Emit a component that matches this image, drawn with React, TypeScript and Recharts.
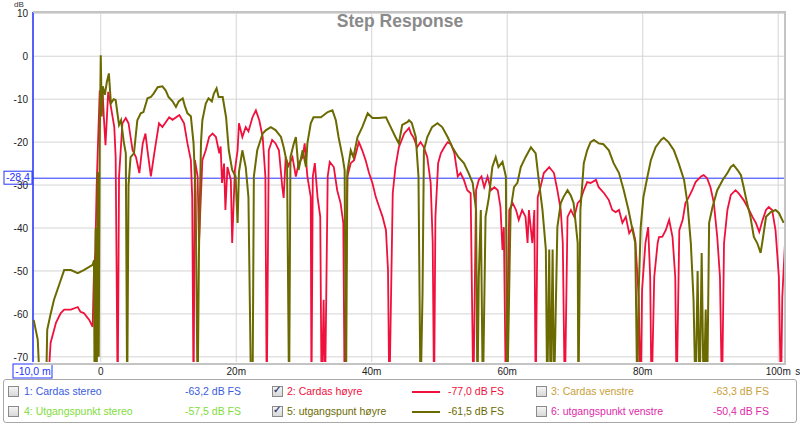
import { LineChart, Line, XAxis, YAxis, CartesianGrid, ReferenceLine } from "recharts";

// time in ms, level in dB (values below the axis floor are clipped dips)
const cardasHoyre: [number, number][] = [
  [-7.9, -80], [-7.4, -66.7], [-6.6, -62], [-5.9, -59.8], [-5.4, -59], [-4.4, -59], [-3.4, -58.4],
  [-3.0, -59.5], [-2.5, -59.8], [-1.7, -61.4], [-1.2, -63], [-1.0, -50], [-0.8, -45.6], [-0.6, -30],
  [-0.4, -20], [-0.15, -8], [0, -12.6], [0.3, -9], [0.45, -14], [0.7, -20.7], [1.1, -8.3], [1.5, -11.8],
  [2.0, -16.5], [2.2, -23.5], [2.5, -80], [2.7, -28], [3.2, -15.6], [3.7, -14.4], [4.1, -15.6],
  [4.7, -21.9], [5.2, -23.5], [5.7, -27.2], [6.2, -20.3], [6.6, -18], [6.9, -22], [7.4, -28],
  [7.9, -22.6], [8.6, -15.6], [9.1, -16.5], [10.1, -14.2], [10.6, -14.8], [11.6, -13.7], [12.3, -15.6],
  [12.8, -20.3], [13.3, -24.2], [13.5, -32.8], [13.7, -80], [13.9, -24.2], [14.3, -28], [14.5, -43.5],
  [15.0, -24.2], [15.5, -21.9], [16.0, -18.8], [16.5, -18], [17.0, -18.8], [17.5, -22.6], [17.7, -21],
  [17.9, -29.5], [18.2, -25], [18.4, -35.8], [18.7, -25.8], [19.2, -28.8], [19.4, -43.5], [19.8, -26.5],
  [20.2, -21.9], [20.4, -15.6], [20.9, -18.8], [21.4, -16.5], [21.8, -17.5], [22.4, -14.2], [22.9, -12.6],
  [23.4, -14.9], [23.9, -18.8], [24.3, -28], [24.5, -80], [24.8, -21.9], [25.3, -19.5], [25.8, -20.3],
  [26.3, -21.9], [26.8, -30.5], [27.0, -33], [27.3, -23.5], [27.7, -25.5], [28.3, -23.5], [28.8, -28],
  [29.2, -25], [29.8, -23.5], [30.1, -20.3], [30.5, -28], [31.0, -32.8], [31.1, -80], [31.3, -28],
  [31.6, -24.9], [32.0, -32.8], [32.4, -37.4], [32.6, -80], [32.9, -56.7], [33.1, -80], [33.5, -28],
  [33.8, -24.6], [34.4, -25.8], [34.9, -31.2], [35.4, -34.2], [35.8, -38.8], [36.0, -80], [36.4, -28],
  [36.9, -24.9], [37.4, -24.2], [38.1, -20], [38.6, -21.9], [39.1, -24.2], [39.6, -27.2], [40.1, -29.5],
  [40.6, -32.8], [41.1, -35.1], [41.6, -37.4], [42.1, -40.5], [42.4, -49.8], [42.6, -80], [43.1, -31.9],
  [43.5, -25.8], [44.0, -21.2], [44.8, -18], [45.5, -16.7], [45.8, -18], [46.2, -19], [46.7, -21.2],
  [47.2, -20], [47.7, -21.2], [48.2, -23.5], [48.7, -29.5], [49.0, -43.5], [49.2, -80], [49.4, -37.4],
  [49.8, -24.9], [50.2, -22.6], [50.7, -21.2], [51.2, -20], [51.7, -20.5], [52.2, -22.6], [52.7, -28],
  [53.1, -27.2], [53.6, -28.8], [54.1, -31.2], [54.6, -31.9], [55.0, -80], [55.4, -31.2], [55.8, -28.8],
  [56.2, -28], [56.6, -30.5], [57.1, -28], [57.6, -31.2], [58.1, -30.5], [58.6, -31.2], [59.0, -35.1],
  [59.3, -45.1], [59.5, -39.8], [59.8, -80], [60.3, -35.8], [60.8, -34.2], [61.3, -35.8], [61.7, -38.1],
  [62.2, -35.8], [62.7, -37.4], [63.0, -43.5], [63.2, -35.8], [63.7, -43.5], [64.0, -35.8], [64.2, -80],
  [64.5, -32.8], [64.9, -30.5], [65.4, -27.2], [66.2, -25.8], [66.9, -27.2], [67.4, -31.2], [67.9, -35.8],
  [68.2, -43.5], [68.5, -80], [68.9, -37.4], [69.4, -35.8], [69.9, -37.4], [70.4, -34.2], [70.8, -33.5],
  [71.3, -31.2], [71.8, -29.3], [72.3, -29.5], [73.1, -28.8], [73.5, -30.5], [74.3, -31.9], [75.0, -33.5],
  [75.5, -35.8], [76.0, -36.3], [76.5, -35.8], [77.0, -38.8], [77.5, -37.4], [78.0, -41.2], [78.5, -40],
  [78.9, -42.8], [79.4, -56], [79.7, -80], [79.9, -54.4], [80.4, -43.5], [80.8, -39.8], [81.1, -51.4],
  [81.3, -80], [81.7, -51.4], [82.2, -43.5], [82.4, -42.1], [82.9, -42], [83.4, -40.5], [83.9, -38.1],
  [84.4, -42.1], [84.8, -51.4], [85.0, -80], [85.4, -40.5], [85.9, -38.1], [86.3, -34.2], [86.8, -32.8],
  [87.3, -31.2], [87.8, -29.3], [88.6, -28], [89.0, -27.7], [89.5, -28.4], [90.0, -30.5], [90.5, -34.2],
  [91.0, -42.1], [91.4, -51.4], [91.7, -80], [92.0, -43.5], [92.5, -35.8], [93.0, -32.3], [93.7, -31.2],
  [94.2, -32], [94.9, -33.5], [95.7, -35.8], [96.2, -37.4], [96.7, -38.8], [97.2, -40.9], [97.7, -38.1],
  [98.2, -35.8], [98.6, -35.1], [99.1, -35.8], [99.6, -40.5], [100.1, -51.4], [100.4, -80], [100.6, -56],
  [101.0, -43.5],
];

const utgangspuntHoyre: [number, number][] = [
  [-9.9, -61.4], [-9.3, -66], [-8.9, -80], [-8.1, -80], [-7.9, -63.7], [-7.4, -60], [-6.9, -56.7],
  [-5.9, -52.1], [-5.4, -49.8], [-4.4, -49.8], [-3.4, -50.5], [-2.5, -49.8], [-1.2, -48.6], [-1.0, -47.5],
  [-0.9, -80], [-0.75, -40], [-0.6, -80], [-0.45, -27], [-0.3, -70], [-0.15, -20], [0, 0.2], [0.15, -14],
  [0.3, -7], [0.6, -9], [0.9, -6], [1.2, -4], [1.5, -11], [1.9, -10], [2.2, -10.2], [2.7, -16], [3.0, -14.9],
  [3.4, -20], [3.7, -22.6], [3.9, -80], [4.1, -30], [4.4, -23.5], [4.9, -22.6], [5.4, -14.9], [5.9, -13.3],
  [6.3, -13], [6.9, -9.8], [7.4, -9.5], [7.8, -8.7], [8.4, -7.2], [9.1, -7.0], [9.6, -8], [10.0, -9.5],
  [10.6, -10.5], [11.1, -11.8], [11.5, -10.5], [12.1, -9.8], [12.4, -11.5], [12.8, -13.3], [13.3, -14],
  [13.7, -20.3], [14.0, -31.9], [14.3, -80], [14.5, -45], [14.8, -20], [15.0, -14.9], [15.5, -11],
  [15.9, -9.8], [16.4, -10.5], [16.7, -8.7], [17.1, -7.5], [17.4, -9.5], [18.0, -9.5], [18.5, -14.2],
  [18.9, -21.9], [19.4, -26.5], [19.9, -28], [20.2, -38.8], [20.4, -27], [20.9, -21.9], [21.4, -25.8],
  [21.8, -32.8], [22.2, -80], [22.4, -80], [22.6, -28], [23.1, -21.9], [23.9, -18], [24.4, -17.2],
  [25.1, -16.5], [25.8, -17.2], [26.6, -18.8], [27.0, -21.2], [27.5, -25], [27.8, -80], [28.0, -23.5],
  [28.5, -20.3], [28.8, -18.8], [29.2, -26.5], [29.8, -21.9], [30.3, -25.8], [30.5, -20.3], [31.0, -15.6],
  [31.4, -14.2], [32.5, -14.2], [33.5, -13], [34.2, -12.6], [34.7, -14.9], [35.1, -18.8], [35.7, -23.5],
  [36.0, -26.5], [36.2, -80], [36.4, -27], [36.9, -21.9], [37.3, -23.5], [37.9, -18.8], [38.6, -16.5],
  [39.4, -13.3], [40.1, -14.4], [41.0, -14.4], [42.1, -14.2], [42.8, -16.5], [43.5, -18.8], [44.0, -20.3],
  [44.5, -16], [45.3, -15.3], [45.5, -14.9], [45.9, -15.5], [46.5, -18.8], [46.9, -28], [47.2, -80],
  [47.5, -55], [47.7, -21.9], [48.2, -18.8], [48.9, -16.5], [49.7, -15.6], [50.4, -16.5], [51.2, -18.8],
  [51.9, -21.2], [52.8, -23.5], [53.6, -24.9], [54.3, -27.2], [54.9, -29.5], [55.4, -35.8], [55.6, -80],
  [55.8, -51.4], [56.1, -35.8], [56.4, -80], [56.8, -37.4], [57.3, -32.8], [57.8, -25.8], [58.3, -23.5],
  [58.7, -25.8], [59.3, -24.6], [59.8, -28], [60.0, -80], [60.5, -35.8], [61.0, -30.5], [61.5, -29.5],
  [62.0, -25.8], [62.7, -23.5], [63.5, -21.2], [64.2, -22.6], [64.7, -29.5], [65.2, -35.8], [65.7, -45],
  [65.9, -80], [66.2, -45], [66.4, -80], [66.7, -45], [66.9, -80], [67.4, -39.8], [67.9, -34.2],
  [68.3, -32.8], [68.9, -31.2], [69.4, -32.5], [69.8, -34.2], [70.4, -43.5], [70.5, -80], [70.8, -35.8],
  [71.3, -24.9], [71.8, -21.9], [72.3, -20], [72.8, -19.5], [73.5, -20.3], [74.2, -20.5], [75.0, -21.9],
  [75.7, -24.9], [76.5, -27.2], [77.2, -31.2], [77.9, -35.8], [78.5, -40.5], [78.9, -43.5], [79.2, -80],
  [79.4, -55], [79.7, -39.8], [80.1, -32.8], [80.7, -28], [81.2, -24.2], [81.9, -21.2], [82.7, -19.5],
  [83.1, -19], [83.8, -20], [84.6, -21.9], [85.3, -24.9], [86.1, -28.8], [86.6, -34.2], [87.1, -43.5],
  [87.5, -56.7], [87.8, -80], [88.1, -50], [88.4, -80], [88.7, -45.8], [89.0, -80], [89.3, -59], [89.5, -80],
  [89.8, -38.8], [90.3, -35.1], [91.0, -31.2], [91.8, -28.8], [92.5, -27.2], [93.0, -25.8], [93.4, -25.3],
  [94.0, -26.5], [94.5, -27.7], [94.9, -30.5], [95.4, -34.2], [95.9, -37.4], [96.4, -42.1], [96.9, -43.5],
  [97.4, -45.8], [97.7, -42.8], [98.2, -37.4], [98.9, -36.3], [99.6, -35.8], [100.1, -36.5], [100.8, -38.8],
];

const xTicks = [-10, 0, 20, 40, 60, 80, 100];
const yTicks = [10, 0, -10, -20, -30, -40, -50, -60, -70];
const cursorTime = -10;
const cursorLevel = -28.4;

const legendRows = [
  [
    { label: "1: Cardas stereo", level: "-63,2 dB FS", color: "#3b5bdb", checked: false },
    { label: "2: Cardas høyre", level: "-77,0 dB FS", color: "#f0103c", checked: true },
    { label: "3: Cardas venstre", level: "-63,3 dB FS", color: "#c9a03a", checked: false },
  ],
  [
    { label: "4: Utgangspunkt stereo", level: "-57,5 dB FS", color: "#7fdc3c", checked: false },
    { label: "5: utgangspunt høyre", level: "-61,5 dB FS", color: "#6b6a00", checked: true },
    { label: "6: utgangspunkt venstre", level: "-50,4 dB FS", color: "#e02aa8", checked: false },
  ],
];

const toRows = (pts: [number, number][]) => pts.map(([t, db]) => ({ t, db }));

const FONT = "'Liberation Sans', Arial, sans-serif";
const BLUE = "#2433ff";

const XTick = ({ x, y, payload }: any) => {
  const v = payload.value;
  if (v === cursorTime) {
    return (
      <g>
        <rect x={x - 20} y={y + 2} width={39} height={14} fill="#fff" stroke={BLUE} strokeWidth={1} />
        <text x={x} y={y + 13} textAnchor="middle" fontSize={10.5} fill={BLUE} fontFamily={FONT}>-10,0 m</text>
      </g>
    );
  }
  const label = v === 0 ? "0" : `${v}m`;
  return (
    <g>
      <text x={x} y={y + 13} textAnchor="middle" fontSize={10} fill="#222" fontFamily={FONT}>{label}</text>
      {v === 100 && (
        <text x={x + 17} y={y + 13} fontSize={10} fill="#222" fontFamily={FONT}>s</text>
      )}
    </g>
  );
};

const YTick = ({ x, y, payload }: any) => (
  <text x={x} y={y + 4} textAnchor="end" fontSize={10} fill="#222" fontFamily={FONT}>{payload.value}</text>
);

const CursorLabel = ({ viewBox }: any) => {
  const { x, y } = viewBox;
  return (
    <g>
      <rect x={x - 29} y={y - 7} width={28} height={13} fill="#fff" stroke={BLUE} strokeWidth={1} />
      <text x={x - 15} y={y + 3} textAnchor="middle" fontSize={10.5} fill={BLUE} fontFamily={FONT}>-28,4</text>
    </g>
  );
};

const CheckBox = ({ checked }: { checked: boolean }) => (
  <div
    style={{
      width: 9,
      height: 9,
      border: "1px solid #8a8a8a",
      background: "linear-gradient(#f4f4f4, #d8d8d8)",
      position: "relative",
    }}
  >
    {checked && (
      <span style={{ position: "absolute", left: 0, top: -3, fontSize: 10, color: "#3b4a7a", fontWeight: "bold" }}>✓</span>
    )}
  </div>
);

const COLS = [
  { box: 8, label: 24, level: 185 },
  { box: 272, label: 287, level: 448 },
  { box: 536, label: 551, level: 713 },
];

export default function App() {
  return (
    <div style={{ position: "relative", width: 800, height: 425, background: "#fff", fontFamily: FONT }}>
      <style>{"body{margin:0}"}</style>
      <LineChart width={800} height={380} margin={{ top: 12, right: 15, left: 0, bottom: 0 }}>
        <CartesianGrid stroke="#d4d4d4" strokeWidth={1} verticalValues={xTicks} horizontalValues={yTicks} />
        <XAxis
          dataKey="t"
          type="number"
          domain={[-10, 101]}
          ticks={xTicks}
          allowDataOverflow
          axisLine={false}
          tickLine={false}
          tickSize={0}
          tickMargin={0}
          height={18}
          tick={<XTick />}
          interval={0}
        />
        <YAxis
          dataKey="db"
          type="number"
          domain={[-71.2, 10.3]}
          ticks={yTicks}
          allowDataOverflow
          axisLine={false}
          tickLine={false}
          tickSize={0}
          tickMargin={5}
          width={33}
          tick={<YTick />}
          interval={0}
        />
        <ReferenceLine x={cursorTime} stroke={BLUE} strokeWidth={1.5} />
        <ReferenceLine y={cursorLevel} stroke={BLUE} strokeWidth={1} label={<CursorLabel />} />
        <Line
          data={toRows(cardasHoyre)}
          dataKey="db"
          stroke="#f0103c"
          strokeWidth={1.8}
          dot={false}
          isAnimationActive={false}
        />
        <Line
          data={toRows(utgangspuntHoyre)}
          dataKey="db"
          stroke="#6b6a00"
          strokeWidth={2}
          dot={false}
          isAnimationActive={false}
        />
      </LineChart>

      {/* plot frame */}
      <div
        style={{
          position: "absolute",
          left: 33,
          top: 11,
          width: 751,
          height: 350,
          borderTop: "2px solid #c4c4c4",
          borderRight: "2px solid #c4c4c4",
          borderBottom: "2px solid #c4c4c4",
          pointerEvents: "none",
        }}
      />

      <div style={{ position: "absolute", left: 14, top: 0, fontSize: 8, color: "#333" }}>dB</div>
      <div
        style={{
          position: "absolute",
          left: 0,
          width: 800,
          top: 11,
          textAlign: "center",
          fontSize: 17.5,
          fontWeight: "bold",
          color: "#8a8a8a",
        }}
      >
        Step Response
      </div>

      {/* legend panel */}
      <div
        style={{
          position: "absolute",
          left: 3,
          top: 379,
          width: 792,
          height: 42,
          border: "1px solid #a8a8a8",
          borderRadius: 3,
        }}
      />
      {legendRows.map((row, r) =>
        row.map((item, c) => {
          const top = 386 + r * 20;
          const col = COLS[c];
          return (
            <div key={`${r}-${c}`}>
              <div style={{ position: "absolute", left: col.box, top }}>
                <CheckBox checked={item.checked} />
              </div>
              <div style={{ position: "absolute", left: col.label, top: top - 1, fontSize: 10.5, color: item.color, whiteSpace: "nowrap" }}>
                {item.label}
              </div>
              {item.checked && (
                <div style={{ position: "absolute", left: 412, top: top + 5, width: 28, height: 2, background: item.color }} />
              )}
              <div style={{ position: "absolute", left: col.level, top: top - 1, fontSize: 10.5, color: item.color, whiteSpace: "nowrap" }}>
                {item.level}
              </div>
            </div>
          );
        })
      )}
    </div>
  );
}
